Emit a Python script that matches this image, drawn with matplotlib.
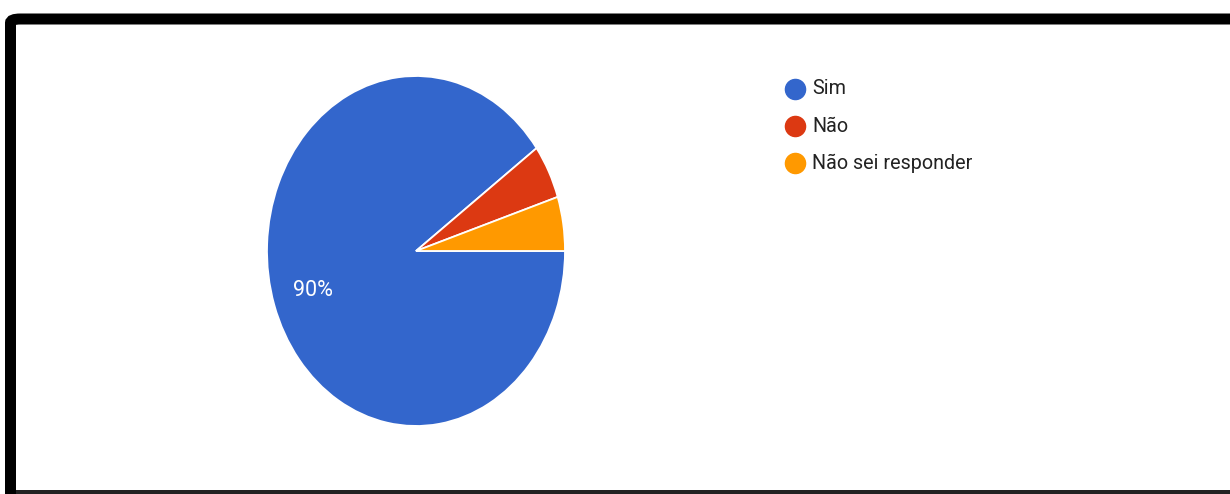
import matplotlib
matplotlib.use("Agg")
import matplotlib.pyplot as plt
from matplotlib.patches import FancyBboxPatch, Rectangle
from matplotlib.lines import Line2D

categories = ["Sim", "Não", "Não sei responder"]
values = [90, 5, 5]
colors = ["#3366CC", "#DC3912", "#FF9900"]

W, H = 1230, 494
fig = plt.figure(figsize=(W / 100, H / 100), dpi=100)
fig.patch.set_facecolor("white")

def fx(px):
    return px / W

def fy(py):
    return (H - py) / H

# frame border (thick black, rounded top-left corner)
border = FancyBboxPatch((fx(10.5), fy(600)), fx(1400), fy(19) - fy(600),
                        boxstyle="round,pad=0,rounding_size=0.008",
                        transform=fig.transFigure, facecolor="none",
                        edgecolor="black", linewidth=11 * 0.72, zorder=5)
fig.patches.append(border)
fig.patches.append(Rectangle((fx(16), 0), 1, fy(490), transform=fig.transFigure,
                             facecolor="#222222", edgecolor="none", zorder=5))

# pie axes
cx, cy, rx, ry = 416, 251, 149, 175
ax = fig.add_axes([fx(cx - rx), fy(cy + ry), 2 * rx / W, 2 * ry / H])
wedges, texts, autotexts = ax.pie(
    values, colors=colors, startangle=0, counterclock=False,
    autopct=lambda p: f"{p:.0f}%" if p >= 10 else "", pctdistance=0.73,
    wedgeprops=dict(edgecolor="white", linewidth=1.3),
    textprops=dict(color="white", fontsize=15.5, family=["Roboto", "DejaVu Sans"]))
ax.set_aspect("auto")
ax.set_xlim(-1, 1)
ax.set_ylim(-1, 1)
ax.axis("off")

# legend
lx, ly0, dy = 795, 89, 37
for i, (cat, col) in enumerate(zip(categories, colors)):
    y = ly0 + i * dy
    fig.add_artist(Line2D([fx(lx)], [fy(y)], marker="o", markersize=14.5,
                          markerfacecolor=col, markeredgecolor=col,
                          transform=fig.transFigure))
    fig.text(fx(812), fy(y), cat, fontsize=14.2, color="#222222",
             va="center", ha="left", family=["Roboto", "DejaVu Sans"])

fig.savefig("out.png", dpi=100, facecolor="white")
